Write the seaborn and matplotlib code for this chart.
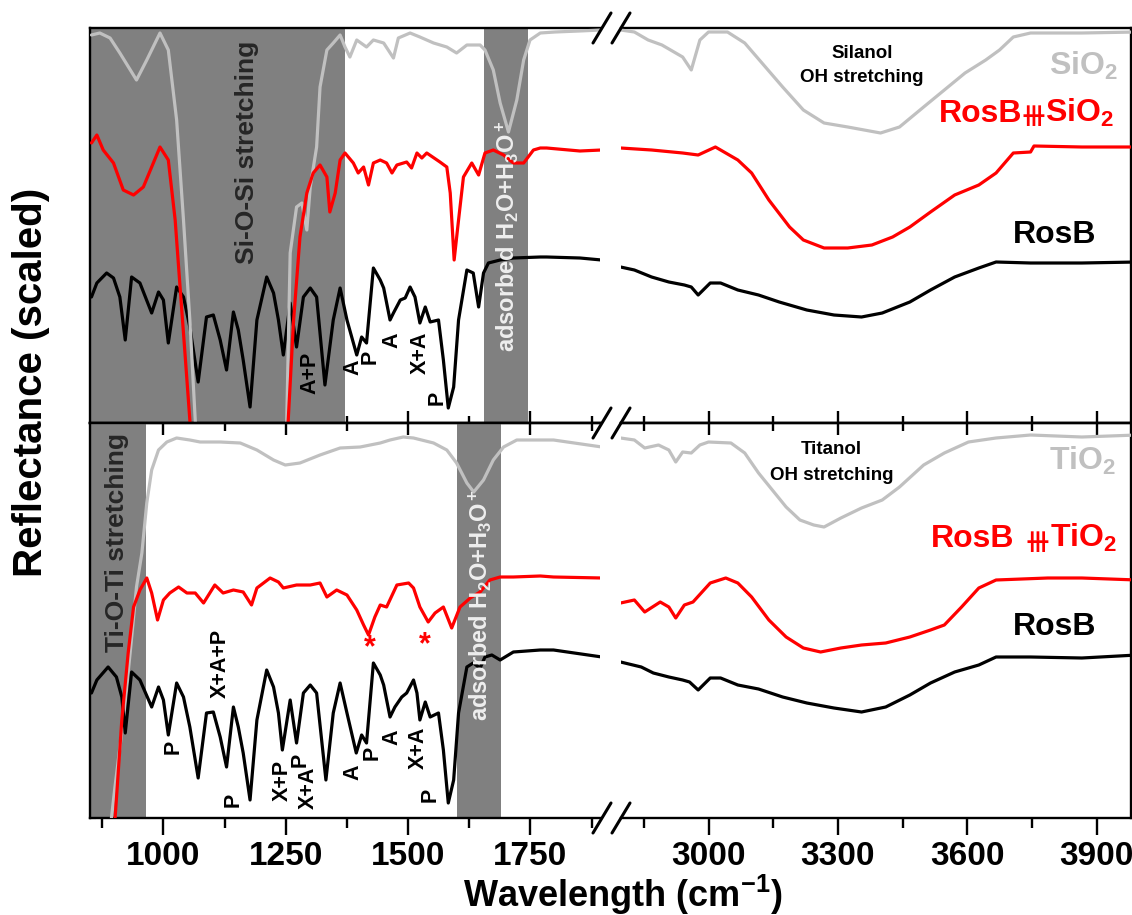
import numpy as np
import matplotlib
matplotlib.use('Agg')
import matplotlib.pyplot as plt
import seaborn as sns
from matplotlib.lines import Line2D
from matplotlib.ticker import FixedLocator

# ---------------- data (wavenumber cm-1, scaled reflectance in arbitrary units) ----------------
# Top panel
sio2_w = [853, 870, 891, 911, 945, 966, 993, 1010, 1027, 1041, 1054, 1065, 1070, 1247, 1252, 1259, 1272, 1283, 1293,
          1300, 1313, 1320, 1334, 1347, 1361, 1371, 1381, 1395, 1415, 1429, 1450, 1470, 1480, 1504, 1524, 1552, 1579,
          1599, 1620, 1647, 1657, 1674, 1688, 1705, 1722, 1736, 1749, 1770, 1800, 1850, 1895,
          2796, 2828, 2860, 2892, 2924, 2940, 2960, 2980, 3000, 3044, 3084, 3124, 3172, 3220, 3268, 3323, 3399, 3443,
          3499, 3547, 3595, 3643, 3675, 3707, 3747, 3866, 3994]
sio2_v = [388, 390, 385, 370, 343, 363, 390, 373, 303, 203, 103, 3, -50, -50, 3, 170, 216, 220, 193,
          236, 276, 336, 373, 380, 388, 376, 366, 383, 376, 383, 380, 365, 385, 390, 386, 380, 376,
          370, 378, 378, 373, 353, 320, 291, 323, 363, 383, 390, 391, 392, 393,
          393, 391, 383, 378, 370, 366, 353, 383, 391, 391, 380, 360, 336, 313, 300, 296, 290, 296,
          316, 333, 350, 363, 373, 386, 390, 390, 391]

rosb_sio2_w = [853, 864, 877, 898, 918, 939, 959, 993, 1010, 1024, 1034, 1044, 1054, 1060, 1250, 1255, 1266, 1279,
               1293, 1306, 1320, 1334, 1340, 1351, 1361, 1371, 1388, 1398, 1409, 1419, 1429, 1443, 1456, 1467, 1477,
               1497, 1507, 1518, 1528, 1538, 1565, 1579, 1586, 1594, 1603, 1613, 1630, 1644, 1657, 1674, 1695, 1715,
               1736, 1756, 1770, 1783, 1851, 1895,
               2796, 2868, 2940, 2976, 3016, 3068, 3100, 3140, 3188, 3220, 3268, 3323, 3379, 3427, 3467, 3515, 3571,
               3627, 3667, 3707, 3747, 3755, 3866, 3994]
rosb_sio2_v = [280, 288, 273, 260, 233, 228, 236, 276, 263, 203, 136, 70, 3, -40, -40, 3, 103, 186,
               230, 250, 258, 246, 211, 230, 263, 270, 260, 250, 256, 238, 260, 263, 260, 250, 258,
               261, 255, 270, 265, 270, 261, 256, 230, 163, 203, 246, 260, 248, 270, 273, 268, 260,
               260, 273, 275, 275, 272, 273,
               275, 273, 270, 268, 276, 263, 250, 223, 196, 183, 175, 175, 178, 186, 196, 211, 228,
               238, 250, 270, 271, 277, 276, 276]

rosb_top_w = [853, 864, 884, 898, 911, 922, 935, 952, 976, 990, 1000, 1010, 1027, 1041, 1054, 1071, 1088, 1102, 1116,
              1129, 1143, 1153, 1163, 1177, 1191, 1211, 1225, 1235, 1245, 1259, 1272, 1286, 1300, 1313, 1330, 1347,
              1361, 1375, 1395, 1405, 1415, 1429, 1443, 1450, 1463, 1470, 1484, 1494, 1504, 1514, 1524, 1535, 1545,
              1562, 1572, 1582, 1593, 1603, 1620, 1633, 1644, 1654, 1664, 1688, 1715, 1770, 1783, 1851, 1895,
              2796, 2828, 2868, 2908, 2944, 2960, 2976, 3004, 3028, 3068, 3116, 3164, 3228, 3291, 3355, 3403, 3467,
              3515, 3571, 3627, 3667, 3747, 3866, 3994]
rosb_top_v = [126, 140, 150, 145, 126, 83, 146, 140, 110, 131, 123, 80, 136, 126, 96, 41, 106, 108, 83,
              53, 111, 93, 63, 16, 103, 146, 130, 103, 68, 120, 76, 126, 135, 126, 38, 103,
              135, 103, 68, 86, 80, 155, 143, 135, 103, 110, 123, 125, 136, 126, 100, 116, 101,
              103, 63, 15, 36, 103, 153, 150, 116, 150, 160, 163, 165, 166, 166, 165, 163,
              156, 153, 146, 141, 138, 136, 128, 140, 140, 133, 128, 121, 113, 108, 106, 110, 121,
              133, 146, 155, 161, 160, 160, 161]

# Bottom panel
tio2_w = [885, 894, 901, 918, 932, 945, 956, 966, 976, 990, 1007, 1027, 1054, 1075, 1116, 1157, 1191, 1225, 1249,
          1279, 1320, 1361, 1402, 1443, 1463, 1490, 1511, 1552, 1579, 1599, 1620, 1634, 1654, 1674, 1695, 1722,
          1770, 1797, 1896,
          2796, 2828, 2852, 2884, 2908, 2924, 2940, 2960, 2980, 3000, 3052, 3084, 3116, 3148, 3180, 3212, 3244,
          3268, 3307, 3355, 3403, 3443, 3499, 3547, 3603, 3667, 3747, 3866, 3994]
tio2_v = [-40, 1, 31, 98, 165, 231, 265, 315, 348, 368, 376, 380, 378, 376, 376, 375, 368, 358, 353,
          355, 363, 370, 371, 375, 378, 381, 380, 375, 368, 355, 335, 326, 338, 358, 371, 378,
          378, 378, 371,
          380, 378, 370, 373, 368, 356, 366, 365, 373, 376, 375, 365, 345, 328, 311, 298, 293,
          291, 300, 310, 318, 331, 353, 365, 376, 380, 383, 381, 383]

rosb_tio2_w = [895, 901, 915, 928, 939, 952, 966, 976, 988, 1000, 1013, 1031, 1048, 1065, 1082, 1105, 1122, 1143,
               1163, 1180, 1191, 1218, 1235, 1245, 1272, 1300, 1320, 1334, 1354, 1375, 1395, 1409, 1419, 1432,
               1443, 1456, 1477, 1501, 1511, 1524, 1541, 1555, 1572, 1589, 1606, 1627, 1647, 1667, 1688, 1715,
               1770, 1797, 1896,
               2796, 2828, 2852, 2888, 2908, 2924, 2944, 2964, 3004, 3040, 3068, 3100, 3140, 3180, 3220, 3260,
               3307, 3355, 3411, 3467, 3515, 3547, 3587, 3627, 3667, 3787, 3866, 3994]
rosb_tio2_v = [-40, -2, 98, 165, 211, 228, 240, 225, 198, 218, 225, 231, 225, 225, 215, 233, 225, 228,
               226, 213, 230, 240, 236, 230, 233, 233, 235, 221, 228, 223, 208, 193, 183, 201,
               213, 211, 233, 235, 230, 211, 196, 205, 211, 190, 211, 220, 226, 238, 241, 241,
               242, 241, 240,
               215, 218, 206, 216, 211, 200, 213, 216, 235, 240, 235, 221, 198, 181, 170, 166,
               170, 173, 175, 181, 188, 193, 211, 230, 238, 240, 240, 238]

rosb_bot_w = [853, 864, 887, 904, 915, 922, 935, 952, 976, 990, 1000, 1010, 1027, 1041, 1054, 1071, 1088, 1102, 1116,
              1129, 1143, 1153, 1163, 1177, 1191, 1211, 1225, 1235, 1243, 1259, 1272, 1286, 1300, 1313, 1332, 1347,
              1361, 1375, 1394, 1405, 1415, 1429, 1443, 1450, 1463, 1473, 1487, 1497, 1511, 1518, 1524, 1535, 1545,
              1562, 1572, 1582, 1593, 1603, 1620, 1633, 1647, 1657, 1671, 1688, 1715, 1770, 1797, 1896,
              2796, 2844, 2872, 2908, 2940, 2956, 2976, 3004, 3028, 3068, 3116, 3172, 3228, 3291, 3355, 3411, 3467,
              3515, 3571, 3627, 3667, 3747, 3866, 3994]
rosb_bot_v = [125, 138, 151, 141, 121, 85, 146, 138, 111, 131, 118, 83, 135, 121, 91, 40, 105, 106, 81,
              51, 111, 91, 65, 18, 98, 148, 131, 105, 68, 118, 75, 125, 133, 125, 38, 105,
              135, 105, 65, 83, 75, 155, 143, 133, 101, 111, 121, 125, 138, 125, 98, 116, 101,
              105, 68, 15, 38, 105, 151, 155, 150, 161, 163, 158, 166, 168, 168, 161,
              156, 151, 145, 141, 138, 136, 128, 140, 140, 133, 129, 121, 115, 110, 106, 111, 123,
              135, 146, 153, 161, 161, 160, 163]

# shaded bands (cm-1)
top_bands = [(850, 1370), (1655, 1745)]
bottom_bands = [(850, 965), (1600, 1690)]

# axis ticks
left_major = [1000, 1250, 1500, 1750]
left_minor = [875, 1125, 1375, 1625, 1875]
right_major = [3000, 3300, 3600, 3900]
right_minor = [2850, 3150, 3450, 3750]

# ---------------- style ----------------
sns.set_style('ticks')
plt.rcParams['font.family'] = ['Liberation Sans', 'DejaVu Sans']
plt.rcParams['font.weight'] = 'bold'
plt.rcParams['text.color'] = 'black'
plt.rcParams['axes.labelcolor'] = 'black'
plt.rcParams['axes.edgecolor'] = 'black'
plt.rcParams['xtick.color'] = 'black'
plt.rcParams['ytick.color'] = 'black'
plt.rcParams['xtick.labelcolor'] = 'black'
plt.rcParams['mathtext.fontset'] = 'custom'
plt.rcParams['mathtext.rm'] = 'Liberation Sans:bold'
plt.rcParams['mathtext.it'] = 'Liberation Sans:italic:bold'
plt.rcParams['mathtext.bf'] = 'Liberation Sans:bold'
plt.rcParams['mathtext.default'] = 'rm'

GREY, RED, BLACK = '#c0c0c0', '#ff0000', '#000000'
BAND = '#808080'
LW = 2.3

W, H = 1132, 915
fig = plt.figure(figsize=(W / 100, H / 100), dpi=100)


def fx(px):
    return px / W


def fy(py):
    return 1 - py / H


L0, L1, R0, R1 = 90, 600, 621, 1131
T0, MID, B1 = 28, 423, 818
LXLIM = (850, 1892)
RXLIM = (2797, 3980)
YLIM = (0, 395)


def make_axes(ytop, ybot):
    axL = fig.add_axes([fx(L0), fy(ybot), (L1 - L0) / W, (ybot - ytop) / H])
    axR = fig.add_axes([fx(R0), fy(ybot), (R1 - R0) / W, (ybot - ytop) / H])
    return axL, axR


def style(ax, major, minor, xlim, yticks, bottom_panel, left):
    ax.set_xlim(*xlim)
    ax.set_ylim(*YLIM)
    ax.xaxis.set_major_locator(FixedLocator(major))
    ax.xaxis.set_minor_locator(FixedLocator(minor))
    for s in ax.spines.values():
        s.set_linewidth(1.7)
        s.set_color('black')
    if left:
        ax.spines['right'].set_visible(False)
    else:
        ax.spines['left'].set_visible(False)
    ax.set_xlabel('')
    ax.set_ylabel('')
    if bottom_panel:
        ax.tick_params(axis='x', which='major', direction='out', length=12, width=1.7,
                       labelsize=24, pad=4.5, bottom=True, top=False, labelbottom=True,
                       color='black', labelcolor='black')
        ax.tick_params(axis='x', which='minor', direction='out', length=7, width=1.7,
                       bottom=True, top=False, color='black')
        sec = ax.secondary_xaxis('top')
        sec.xaxis.set_major_locator(FixedLocator(major))
        sec.xaxis.set_minor_locator(FixedLocator(minor))
        sec.tick_params(axis='x', which='major', direction='in', length=8.5, width=1.7,
                        labeltop=False, color='black')
        sec.tick_params(axis='x', which='minor', direction='in', length=6, width=1.7,
                        labeltop=False, color='black')
        sec.spines['top'].set_linewidth(1.7)
        sec.spines['top'].set_color('black')
    else:
        ax.tick_params(axis='x', which='major', direction='in', length=8.5, width=1.7,
                       bottom=True, top=False, labelbottom=False, color='black')
        ax.tick_params(axis='x', which='minor', direction='in', length=5, width=1.7,
                       bottom=True, top=False, color='black')
    if left:
        ax.set_yticks(yticks)
        ax.tick_params(axis='y', which='major', direction='in', length=4, width=1.5,
                       left=True, right=False, labelleft=False, color='black')
    else:
        ax.set_yticks([])
    ax.tick_params(axis='y', which='minor', left=False, right=False)
    for lab in ax.get_xticklabels():
        lab.set_fontweight('bold')
        lab.set_color('black')


def draw(axL, axR, w, v, color):
    w = np.asarray(w, dtype=float)
    v = np.asarray(v, dtype=float)
    m = w < 2300
    sns.lineplot(x=w[m], y=v[m], ax=axL, color=color, linewidth=LW, sort=False,
                 estimator=None, legend=False, zorder=3)
    sns.lineplot(x=w[~m], y=v[~m], ax=axR, color=color, linewidth=LW, sort=False,
                 estimator=None, legend=False, zorder=3)


# ---------------- top panel ----------------
tL, tR = make_axes(T0, MID)
for a, b in top_bands:
    tL.axvspan(a, b, color=BAND, lw=0, zorder=1)
draw(tL, tR, rosb_top_w, rosb_top_v, BLACK)
draw(tL, tR, sio2_w, sio2_v, GREY)
draw(tL, tR, rosb_sio2_w, rosb_sio2_v, RED)
style(tL, left_major, left_minor, LXLIM, np.arange(0, 396, 65), False, True)
style(tR, right_major, right_minor, RXLIM, [], False, False)

tL.text(1171, 271, 'Si-O-Si stretching', rotation=90, ha='center', va='center',
        fontsize=19, color='#262626', zorder=4)
tL.text(1703, 187, 'adsorbed H$_2$O+H$_3$O$^+$', rotation=90, ha='center', va='center',
        fontsize=17, color='#eeeeee', zorder=4)
for s, x, y in [('A+P', 1300, 50), ('A', 1387, 56), ('P', 1422, 66), ('A', 1467, 83),
                ('X+A', 1524, 70), ('P', 1559, 25)]:
    tL.text(x, y, s, rotation=90, ha='center', va='center', fontsize=15.5, color='black', zorder=4)

tR.text(3356, 370, 'Silanol', ha='center', va='center', fontsize=13.5, color='black')
tR.text(3356, 345, 'OH stretching', ha='center', va='center', fontsize=13.5, color='black')
tR.text(3790, 348, 'SiO$_2$', ha='left', va='baseline', fontsize=23, color=GREY)
tR.text(3535, 301, 'RosB', ha='left', va='baseline', fontsize=23, color=RED)
tR.text(3753, 306, '\u29FB', ha='center', va='center', fontsize=24, color=RED,
        family=['DejaVu Sans'], fontweight='normal')
tR.text(3780, 301, 'SiO$_2$', ha='left', va='baseline', fontsize=23, color=RED)
tR.text(3706, 180, 'RosB', ha='left', va='baseline', fontsize=23, color='black')

# ---------------- bottom panel ----------------
bL, bR = make_axes(MID, B1)
for a, b in bottom_bands:
    bL.axvspan(a, b, color=BAND, lw=0, zorder=1)
draw(bL, bR, tio2_w, tio2_v, GREY)
draw(bL, bR, rosb_bot_w, rosb_bot_v, BLACK)
draw(bL, bR, rosb_tio2_w, rosb_tio2_v, RED)
style(bL, left_major, left_minor, LXLIM, np.arange(0, 396, 40), True, True)
style(bR, right_major, right_minor, RXLIM, [], True, False)

bL.text(905, 275, 'Ti-O-Ti stretching', rotation=90, ha='center', va='center',
        fontsize=19, color='#262626', zorder=4)
bL.text(1647, 213, 'adsorbed H$_2$O+H$_3$O$^+$', rotation=90, ha='center', va='center',
        fontsize=17, color='#eeeeee', zorder=4)
for s, x, y in [('X+A+P', 1116, 155), ('P', 1020, 71), ('P', 1142, 18), ('X+P', 1242, 38),
                ('P', 1279, 58), ('X+A', 1296, 30), ('A', 1387, 46), ('P', 1426, 65),
                ('A', 1467, 81), ('X+A', 1520, 70), ('P', 1545, 23)]:
    bL.text(x, y, s, rotation=90, ha='center', va='center', fontsize=15.5, color='black', zorder=4)
for x, y in [(1422, 170), (1535, 173)]:
    bL.text(x, y, '*', ha='center', va='center', fontsize=22, color=RED, zorder=4)

bR.text(3286, 369, 'Titanol', ha='center', va='center', fontsize=13.5, color='black')
bR.text(3286, 343, 'OH stretching', ha='center', va='center', fontsize=13.5, color='black')
bR.text(3790, 348, 'TiO$_2$', ha='left', va='baseline', fontsize=23, color=GREY)
bR.text(3515, 271, 'RosB', ha='left', va='baseline', fontsize=23, color=RED)
bR.text(3763, 276, '\u29FB', ha='center', va='center', fontsize=24, color=RED,
        family=['DejaVu Sans'], fontweight='normal')
bR.text(3791, 271, 'TiO$_2$', ha='left', va='baseline', fontsize=23, color=RED)
bR.text(3706, 183, 'RosB', ha='left', va='baseline', fontsize=23, color='black')

# ---------------- axis titles ----------------
fig.text(fx(31), fy(382), 'Reflectance (scaled)', rotation=90, ha='center', va='center',
         fontsize=29, fontweight='bold', color='black')
fig.text(fx(623), fy(907), 'Wavelength (cm$^{-1}$)', ha='center', va='baseline',
         fontsize=26, fontweight='bold', color='black')

# ---------------- axis break marks ----------------
for yc in (T0, MID, B1):
    for xc in (602, 621):
        fig.add_artist(Line2D([fx(xc - 9), fx(xc + 9)], [fy(yc + 15), fy(yc - 15)],
                              transform=fig.transFigure, color='black', lw=2.2))

fig.savefig('out.png', dpi=100)
